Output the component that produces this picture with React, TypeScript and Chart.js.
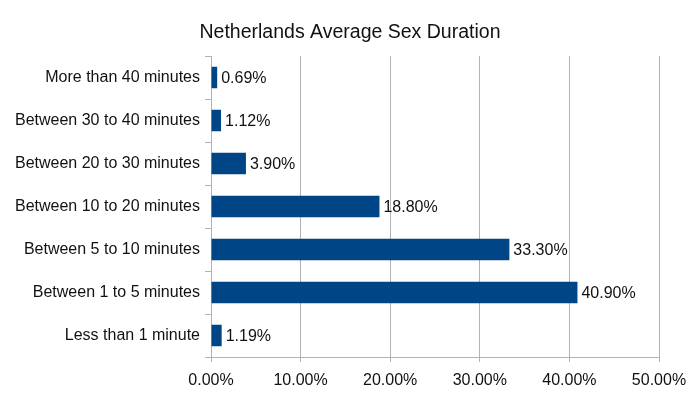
import React, { useEffect, useRef } from "react";
import { Chart, registerables } from "chart.js";

Chart.register(...registerables);

const categories = [
  "More than 40 minutes",
  "Between 30 to 40 minutes",
  "Between 20 to 30 minutes",
  "Between 10 to 20 minutes",
  "Between 5 to 10 minutes",
  "Between 1 to 5 minutes",
  "Less than 1 minute",
];
const values = [0.69, 1.12, 3.9, 18.8, 33.3, 40.9, 1.19];
const xTicks = [0, 10, 20, 30, 40, 50];
const titleText = "Netherlands Average Sex Duration";

const FONT = "'Liberation Sans', Arial, sans-serif";

const valueLabels = {
  id: "valueLabels",
  afterDatasetsDraw(chart: any) {
    const ctx = chart.ctx;
    const meta = chart.getDatasetMeta(0);
    ctx.save();
    ctx.font = `16px ${FONT}`;
    ctx.fillStyle = "#111";
    ctx.textAlign = "left";
    ctx.textBaseline = "middle";
    meta.data.forEach((bar: any, i: number) => {
      ctx.fillText(values[i].toFixed(2) + "%", bar.x + 4, bar.y + 1);
    });
    ctx.restore();
  },
};

const titlePlugin = {
  id: "centerTitle",
  afterDraw(chart: any) {
    const ctx = chart.ctx;
    ctx.save();
    ctx.font = `19.5px ${FONT}`;
    ctx.fillStyle = "#111";
    ctx.textAlign = "center";
    ctx.textBaseline = "alphabetic";
    ctx.fillText(titleText, chart.width / 2, 38);
    ctx.restore();
  },
};

export default function App() {
  const ref = useRef<HTMLCanvasElement | null>(null);
  useEffect(() => {
    document.body.style.margin = "0";
    const chart = new Chart(ref.current as HTMLCanvasElement, {
      type: "bar",
      data: {
        labels: categories,
        datasets: [
          {
            data: values,
            backgroundColor: "#004586",
            borderWidth: 0,
            barPercentage: 0.5,
            categoryPercentage: 1,
          },
        ],
      },
      options: {
        indexAxis: "y",
        responsive: false,
        animation: false,
        layout: { padding: { left: 0, right: 41, top: 56, bottom: 0 } },
        plugins: {
          legend: { display: false },
          tooltip: { enabled: false },
          title: { display: false },
        },
        scales: {
          x: {
            min: 0,
            max: 50,
            afterBuildTicks: (axis: any) => {
              axis.ticks = xTicks.map((v) => ({ value: v }));
            },
            afterFit: (axis: any) => {
              axis.height = 37;
            },
            ticks: {
              color: "#111",
              font: { family: FONT, size: 16 },
              padding: 9,
              maxRotation: 0,
              callback: (v: any) => Number(v).toFixed(2) + "%",
            },
            grid: { color: "#b3b3b3", tickLength: 5, lineWidth: 1 },
            border: { color: "#b3b3b3" },
          },
          y: {
            afterFit: (axis: any) => {
              axis.width = 211;
            },
            ticks: {
              color: "#111",
              font: { family: FONT, size: 16 },
              padding: 5,
            },
            grid: {
              offset: true,
              drawOnChartArea: false,
              color: "#b3b3b3",
              tickLength: 6,
            },
            border: { color: "#b3b3b3" },
          },
        },
      },
      plugins: [valueLabels, titlePlugin],
    } as any);
    return () => chart.destroy();
  }, []);
  return <canvas ref={ref} width={700} height={394} style={{ display: "block" }} />;
}
